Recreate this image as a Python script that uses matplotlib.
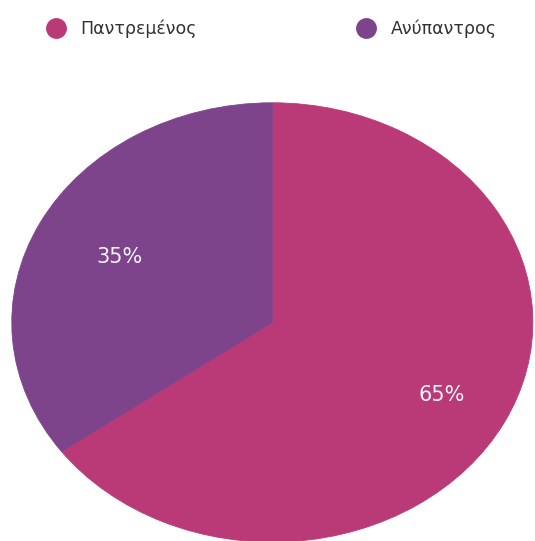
import numpy as np
import matplotlib.pyplot as plt
from matplotlib.lines import Line2D

plt.rcParams["font.family"] = ["DejaVu Sans"]

# data
labels = ["Παντρεμένος", "Ανύπαντρος"]
values = [65, 35]
colors = ["#BA3A77", "#7D448B"]

fig = plt.figure(figsize=(5.35, 5.41), dpi=100)
ax = fig.add_axes([0.022, -0.002, 0.974, 0.812])

wedges, texts, autotexts = ax.pie(values, colors=colors, startangle=90, counterclock=False,
                                  autopct="%d%%", pctdistance=0.7,
                                  wedgeprops={"linewidth": 0.6},
                                  textprops={"color": "#f4f4f4", "fontsize": 15})
for w, c in zip(wedges, colors):
    w.set_edgecolor(c)
ax.set_aspect("auto")
ax.set_xlim(-1, 1)
ax.set_ylim(-1, 1)

# nudge percent labels a bit (radius along the wedge middle)
label_r = [0.73, 0.66]
for w, t, r in zip(wedges, autotexts, label_r):
    ang = np.deg2rad((w.theta1 + w.theta2) / 2)
    t.set_position((r * np.cos(ang), r * np.sin(ang)))

# legend on top
handles = [Line2D([], [], marker="o", linestyle="", markersize=14, color=c) for c in colors]
leg = fig.legend(handles, labels, loc="upper left", bbox_to_anchor=(0.059, 0.993), ncol=2,
                 frameon=False, fontsize=12.5, columnspacing=9.3, handletextpad=0.88,
                 handlelength=1.0)
for t in leg.get_texts():
    t.set_color("#333333")

fig.savefig("out.png", dpi=100)
